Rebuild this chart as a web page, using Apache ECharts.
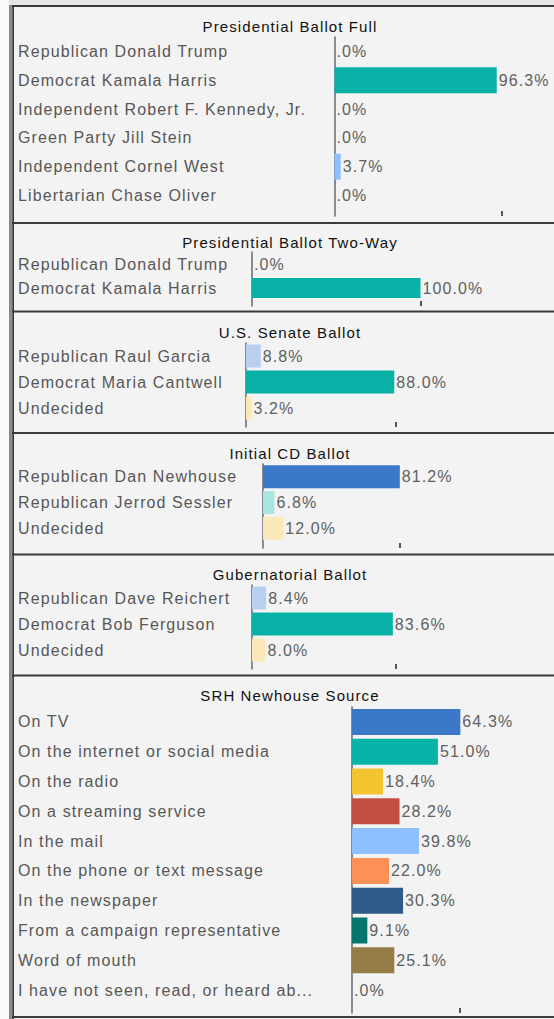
<!DOCTYPE html>
<html>
<head>
<meta charset="utf-8">
<script src="https://cdn.jsdelivr.net/npm/echarts@6/dist/echarts.min.js"></script>
<style>
  html, body { margin: 0; padding: 0; background: #f3f3f3; }
  #chart { width: 554px; height: 1019px; letter-spacing: 1.1px; }
</style>
</head>
<body>
<div id="chart"></div>
<script>
  // panel titles
  var titles = ['Presidential Ballot Full', 'Presidential Ballot Two-Way', 'U.S. Senate Ballot',
    'Initial CD Ballot', 'Gubernatorial Ballot', 'SRH Newhouse Source'];

  var fullNames = ['Republican Donald Trump', 'Democrat Kamala Harris', 'Independent Robert F. Kennedy, Jr.',
    'Green Party Jill Stein', 'Independent Cornel West', 'Libertarian Chase Oliver'];
  var fullValues = [0, 96.3, 0, 0, 3.7, 0];

  var twoWayNames = ['Republican Donald Trump', 'Democrat Kamala Harris'];
  var twoWayValues = [0, 100.0];

  var senateNames = ['Republican Raul Garcia', 'Democrat Maria Cantwell', 'Undecided'];
  var senateValues = [8.8, 88.0, 3.2];

  var cdNames = ['Republican Dan Newhouse', 'Republican Jerrod Sessler', 'Undecided'];
  var cdValues = [81.2, 6.8, 12.0];

  var govNames = ['Republican Dave Reichert', 'Democrat Bob Ferguson', 'Undecided'];
  var govValues = [8.4, 83.6, 8.0];

  var sourceNames = ['On TV', 'On the internet or social media', 'On the radio', 'On a streaming service',
    'In the mail', 'On the phone or text message', 'In the newspaper', 'From a campaign representative',
    'Word of mouth', 'I have not seen, read, or heard ab...'];
  var sourceValues = [64.3, 51.0, 18.4, 28.2, 39.8, 22.0, 30.3, 9.1, 25.1, 0];

  // where the little tick under each panel sits
  var tickValues = [99.2, 100, 89, 81.3, 85.5, 64.1];

  // colours
  var teal = '#08b2a7', paleBlue = '#b9cff0', paleYellow = '#fbe8b8';
  var fullColors = ['#3b78c8', teal, '#999', '#4caf50', '#8ebfff', '#f4c430'];
  var twoWayColors = ['#3b78c8', teal];
  var senateColors = [paleBlue, teal, paleYellow];
  var cdColors = ['#3b78c8', '#a8e6df', paleYellow];
  var govColors = [paleBlue, teal, paleYellow];
  var sourceColors = ['#3b78c8', '#06b3a7', '#f4c430', '#c44e42', '#8ebfff', '#ff9055',
    '#305a87', '#06766e', '#937c45', '#999'];

  var names = [fullNames, twoWayNames, senateNames, cdNames, govNames, sourceNames];
  var values = [fullValues, twoWayValues, senateValues, cdValues, govValues, sourceValues];
  var colors = [fullColors, twoWayColors, senateColors, cdColors, govColors, sourceColors];

  // layout of each panel: axis x, top of bars, band height, bottom of axis line, title y, bar width
  var layout = [
    { x: 334.5, top: 37, band: 28.8, bottom: 216, titleY: 26, barW: 26 },
    { x: 252, top: 252, band: 24, bottom: 306, titleY: 242, barW: 20 },
    { x: 246, top: 343, band: 26, bottom: 427, titleY: 332, barW: 23 },
    { x: 263, top: 464, band: 25.7, bottom: 548, titleY: 453, barW: 23 },
    { x: 252, top: 585, band: 26, bottom: 669, titleY: 574, barW: 23 },
    { x: 352, top: 707, band: 29.8, bottom: 1013, titleY: 695, barW: 26 }
  ];
  var seps = [6, 223, 311.5, 433, 554.5, 675.5, 1017];
  var full = 168.5; // px for 100%
  var labelLeft = 18;
  var font = '"Liberation Sans", Arial, sans-serif';

  function fmt(v) {
    var s = v.toFixed(1);
    if (v < 1) s = s.replace(/^0/, '');
    return s + '%';
  }

  var grid = [], xAxis = [], yAxis = [], series = [], graphic = [];

  graphic.push({ type: 'rect', shape: { x: 0, y: 0, width: 554, height: 6 }, style: { fill: '#e6e6e6' }, z: -10 });
  graphic.push({ type: 'rect', shape: { x: 0, y: 0, width: 9, height: 1019 }, style: { fill: '#fafafa' }, z: -10 });
  graphic.push({ type: 'rect', shape: { x: 9, y: 5, width: 3.5, height: 1014 }, style: { fill: '#8c8c8c' }, z: 5 });
  graphic.push({ type: 'line', shape: { x1: 13.2, y1: 5, x2: 13.2, y2: 1019 }, style: { stroke: '#333', lineWidth: 1.6 }, z: 5 });
  seps.forEach(function (y) {
    graphic.push({ type: 'line', shape: { x1: 12, y1: y, x2: 554, y2: y }, style: { stroke: '#3a3a3a', lineWidth: 2 }, z: 5 });
  });

  layout.forEach(function (L, i) {
    var n = names[i].length;
    var h = L.band * n;
    // data grid
    grid.push({ left: L.x, top: L.top, width: full, height: h });
    // frame grid (axis line + tick)
    grid.push({ left: L.x, top: L.top, width: full, height: L.bottom - L.top });

    xAxis.push({ gridIndex: 2 * i, type: 'value', min: 0, max: 100, show: false });
    yAxis.push({
      gridIndex: 2 * i, type: 'category', inverse: true, data: names[i],
      axisLine: { show: false }, axisTick: { show: false }, splitLine: { show: false },
      axisLabel: {
        interval: 0, align: 'left', margin: L.x - labelLeft,
        color: '#575757', fontSize: 16, fontFamily: font
      }
    });

    xAxis.push({
      gridIndex: 2 * i + 1, type: 'value', min: 0, max: 100, position: 'bottom',
      axisLine: { show: false }, splitLine: { show: false }, axisLabel: { show: false },
      axisTick: { show: true, inside: true, length: 5, customValues: [tickValues[i]], lineStyle: { color: '#555', width: 2 } }
    });
    yAxis.push({
      gridIndex: 2 * i + 1, type: 'value', min: 0, max: 1,
      axisLine: { show: true, lineStyle: { color: '#6b7280', width: 1.6 } },
      axisTick: { show: false }, axisLabel: { show: false }, splitLine: { show: false }
    });

    series.push({
      type: 'bar', xAxisIndex: 2 * i, yAxisIndex: 2 * i, barWidth: L.barW,
      data: values[i].map(function (v, k) {
        return { value: v, itemStyle: { color: colors[i][k] } };
      }),
      label: {
        show: true, position: 'right', distance: 2, color: '#606060',
        fontSize: 16, fontFamily: font,
        formatter: function (p) { return fmt(p.value); }
      }
    });

    graphic.push({
      type: 'text', x: 290, y: L.titleY, z: 10,
      style: { text: titles[i], fill: '#111', font: '15px ' + font, textAlign: 'center', textVerticalAlign: 'middle' }
    });
  });

  var chart = echarts.init(document.getElementById('chart'), null, { renderer: 'svg' });
  chart.setOption({
    backgroundColor: '#f3f3f3',
    animation: false,
    grid: grid, xAxis: xAxis, yAxis: yAxis, series: series, graphic: graphic
  });
</script>
</body>
</html>
